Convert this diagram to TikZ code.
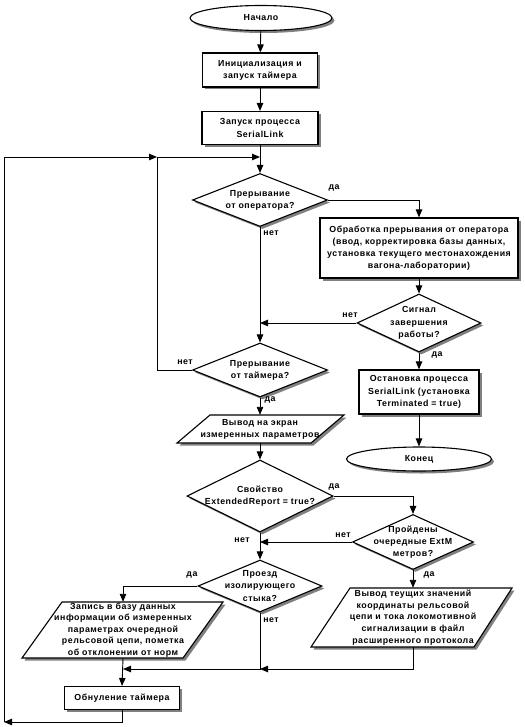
\documentclass[tikz,border=0pt]{standalone}
\usepackage{fontspec}
\setmainfont{Liberation Sans}[LetterSpace=6]
\usetikzlibrary{shapes.geometric,shadows,arrows.meta,calc}
\begin{document}
\begin{tikzpicture}[x=1pt,y=-1pt,
  font=\bfseries\fontsize{8.8}{12.2}\selectfont,
  shad/.style={drop shadow={shadow xshift=2.5pt,shadow yshift=-2.5pt,fill=black!50,opacity=1}},
  box/.style={rectangle,draw,line width=1.1pt,fill=white,shad,inner sep=0pt,align=center},
  dia/.style={diamond,draw,line width=1.1pt,fill=white,shad,inner sep=0pt},
  term/.style={ellipse,draw,line width=1.1pt,fill=white,shad,inner sep=0pt},
  txt/.style={inner sep=0pt,align=center},
  lab/.style={inner sep=0pt},
  ln/.style={line width=0.9pt},
  arr/.style={line width=0.9pt,-{Triangle[length=8pt,width=6.5pt]}},
  pg/.style={line width=1.1pt,fill=white},
  pgs/.style={fill=black!50}
]
\useasboundingbox[fill=white] (0,0) rectangle (524,727);

% terminals and boxes
\node[term,minimum width=142pt,minimum height=25pt] (start) at (261,18) {Начало};
\node[box,minimum width=115pt,minimum height=34pt] (b1) at (260,70) {Инициализация и\\запуск таймера};
\node[box,minimum width=116pt,minimum height=33pt] (b2) at (260,128) {Запуск процесса\\SerialLink};
\node[dia,minimum width=135pt,minimum height=53pt] (d1) at (260,200) {};
\node[txt] (t1) at (d1) {Прерывание\\от оператора?};
\node[box,minimum width=198pt,minimum height=60pt] (b3) at (419,248) {Обработка прерывания от оператора\\(ввод, корректировка базы данных,\\установка текущего местонахождения\\вагона-лаборатории)};
\node[dia,minimum width=124pt,minimum height=58pt] (d2) at (419,323) {};
\node[txt] (t2) at (d2) {Сигнал\\завершения\\работы?};
\node[box,minimum width=120pt,minimum height=44pt] (b4) at (419,392) {Остановка процесса\\SerialLink (установка\\Terminated = true)};
\node[term,minimum width=145pt,minimum height=24pt] (end) at (419,459) {Конец};
\node[dia,minimum width=135pt,minimum height=54pt] (d3) at (260,370) {};
\node[txt] (t3) at (d3) {Прерывание\\от таймера?};

% parallelogram 1
\fill[pgs,shift={(2.5,2.5)}] (210,415) -- (344,415) -- (311,443) -- (177,443) -- cycle;
\draw[pg] (210,415) -- (344,415) -- (311,443) -- (177,443) -- cycle;
\node[txt,minimum height=28pt] (p1) at (260,429) {Вывод на экран\\измеренных параметров};

\node[dia,minimum width=146pt,minimum height=72pt] (d4) at (260,496) {};
\node[txt] (t4) at (d4) {Свойство\\ExtendedReport = true?};
\node[dia,minimum width=121pt,minimum height=55pt] (d5) at (413,542) {};
\node[txt] (t5) at (d5) {Пройдены\\очередные ExtM\\метров?};
\node[dia,minimum width=124pt,minimum height=52pt] (d6) at (260,586) {};
\node[txt] (t6) at (d6) {Проезд\\изолирующего\\стыка?};

% parallelogram 2
\fill[pgs,shift={(2.5,2.5)}] (62,602) -- (223,602) -- (183,658) -- (22,658) -- cycle;
\draw[pg] (62,602) -- (223,602) -- (183,658) -- (22,658) -- cycle;
\node[txt,minimum height=56pt,font=\bfseries\fontsize{8.8}{11.6}\selectfont] (p2) at (123,630) {Запись в базу данных\\информации об измеренных\\параметрах очередной\\рельсовой цепи, пометка\\об отклонении от норм};

% parallelogram 3
\fill[pgs,shift={(2.5,2.5)}] (350,588) -- (512,588) -- (474,647) -- (311,647) -- cycle;
\draw[pg] (350,588) -- (512,588) -- (474,647) -- (311,647) -- cycle;
\node[txt,minimum height=59pt,font=\bfseries\fontsize{8.8}{11.6}\selectfont] (p3) at (413,617.5) {Вывод теущих значений\\координаты рельсовой\\цепи и тока локомотивной\\сигнализации в файл\\расширенного протокола};

\node[box,minimum width=115pt,minimum height=23pt] (b5) at (122,698) {Обнуление таймера};

% coordinates
\coordinate (j1) at (157,157);
\coordinate (j2) at (260,157);
\coordinate (tl) at (4,157);
\coordinate (bl) at (4,722);
\coordinate (m1) at (123,669);
\coordinate (m2) at (260,669);

% connectors
\draw[arr] (start) -- (b1);
\draw[arr] (b1) -- (b2);
\draw[arr] (b2) -- (d1);
\draw[arr] (d1.east) -| (b3.north);
\draw[arr] (d1.south) -- (d3.north);
\draw[arr] (b3) -- (d2);
\draw[arr] (d2.west) -- (d2.west -| d1.south);
\draw[arr] (d2) -- (b4);
\draw[arr] (b4) -- (end);
\draw[arr] (d3.west) -| (j1) -- (j2);
\draw[arr] (d3.south) -- (p1.north);
\draw[arr] (p1.south) -- (d4.north);
\draw[arr] (d4.east) -| (d5.north);
\draw[arr] (d5.west) -- (d5.west -| d4.south);
\draw[arr] (d4.south) -- (d6.north);
\draw[arr] (d6.west) -| (p2.north);
\draw[arr] (d5.south) -- (p3.north);
\draw[arr] (d6.south) |- (m1);
\draw[arr] (p3.south) |- (m2);
\draw[arr] (p2.south) -- (b5.north);
\draw[arr] (b5.south) |- (bl);
\draw[arr] (bl) -- (tl) -- (j1);

% labels
\node[lab] (l1) at (334,188) {да};
\node[lab] (l2) at (271,233) {нет};
\node[lab] (l3) at (350,315) {нет};
\node[lab] (l4) at (437,355) {да};
\node[lab] (l5) at (185,362) {нет};
\node[lab] (l6) at (270,400) {да};
\node[lab] (l7) at (334,487) {да};
\node[lab] (l8) at (343,535) {нет};
\node[lab] (l9) at (242,540) {нет};
\node[lab] (l10) at (192,575) {да};
\node[lab] (l11) at (429,575) {да};
\node[lab] (l12) at (271,620) {нет};
\end{tikzpicture}
\end{document}
